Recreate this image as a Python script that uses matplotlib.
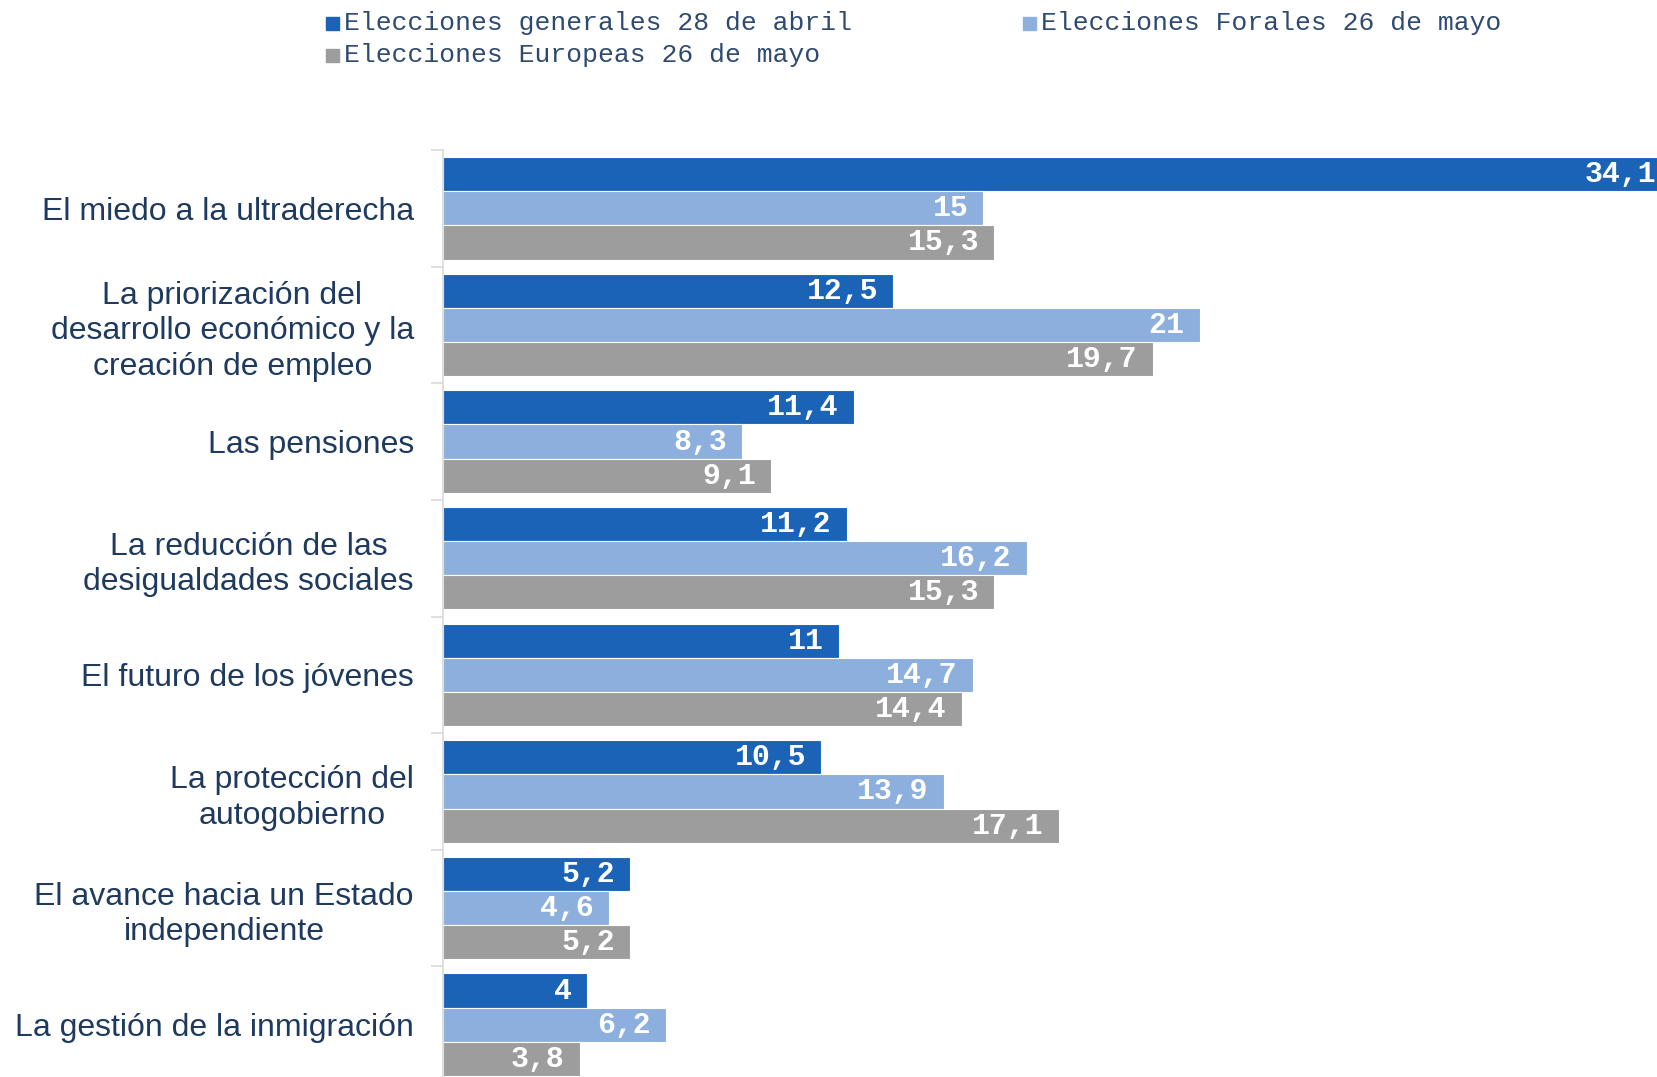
import matplotlib
matplotlib.use('Agg')
import matplotlib.pyplot as plt
from matplotlib.patches import Rectangle
import numpy as np

categories = [
    'El miedo a la ultraderecha',
    'La priorización del\ndesarrollo económico y la\ncreación de empleo',
    'Las pensiones',
    'La reducción de las\ndesigualdades sociales',
    'El futuro de los jóvenes',
    'La protección del\nautogobierno',
    'El avance hacia un Estado\nindependiente',
    'La gestión de la inmigración',
]
series_names = [
    'Elecciones generales 28 de abril',
    'Elecciones Forales 26 de mayo',
    'Elecciones Europeas 26 de mayo',
]
generales = [34.1, 12.5, 11.4, 11.2, 11, 10.5, 5.2, 4]
forales = [15, 21, 8.3, 16.2, 14.7, 13.9, 4.6, 6.2]
europeas = [15.3, 19.7, 9.1, 15.3, 14.4, 17.1, 5.2, 3.8]

colors = ['#1A63B6', '#8CAFDD', '#9D9D9D']
label_color = '#1F3A5F'
mono = ['Liberation Mono', 'DejaVu Sans Mono']
sans = ['Liberation Sans', 'DejaVu Sans']

fig = plt.figure(figsize=(16.58, 10.77), dpi=100)
# axes runs a little past the bottom edge, like the original
ax = fig.add_axes([443 / 1658, -6 / 1077, 1 - 443 / 1658, 933 / 1077])

n = len(categories)
bh = 0.293
centers = np.arange(n) + 0.5
for k, vals in enumerate([generales, forales, europeas]):
    y = centers + (k - 1) * bh
    bars = ax.barh(y, vals, height=bh, color=colors[k],
                   edgecolor='white', linewidth=0.8)
    for b, v in zip(bars, vals):
        txt = ('%g' % v).replace('.', ',')
        ax.annotate(txt, (v, b.get_y() + bh / 2), xytext=(-11, 0),
                    textcoords='offset points', ha='right', va='center',
                    color='white', fontsize=21.5, fontweight='bold',
                    family=mono, annotation_clip=False)

ax.set_xlim(0, 33.72)
ax.set_ylim(n, 0)
ax.set_xticks([])
for s in ['top', 'right', 'bottom']:
    ax.spines[s].set_visible(False)
ax.spines['left'].set_color('#D9D9D9')
ax.spines['left'].set_linewidth(1.2)

ax.set_yticks(np.arange(n + 1))
ax.set_yticklabels([])
ax.tick_params(axis='y', which='major', length=9, color='#D9D9D9', width=1.2)
ax.set_yticks(centers, minor=True)
ax.set_yticklabels(categories, minor=True, fontsize=23, color=label_color,
                   family=sans, multialignment='center', linespacing=1.25)
ax.tick_params(axis='y', which='minor', length=0, pad=21)

# legend drawn by hand
leg_pos = [(326, 23), (1023, 23), (326, 55)]
for name, c, (px, py) in zip(series_names, colors, leg_pos):
    fig.patches.append(Rectangle((px / 1658, (1077 - py - 6.5) / 1077),
                                 13 / 1658, 13 / 1077, color=c,
                                 transform=fig.transFigure, figure=fig))
    fig.text((px + 18) / 1658, 1 - py / 1077, name, ha='left', va='center',
             fontsize=19, family=mono, color='#2E4A70')

fig.savefig('out.png', dpi=100)
